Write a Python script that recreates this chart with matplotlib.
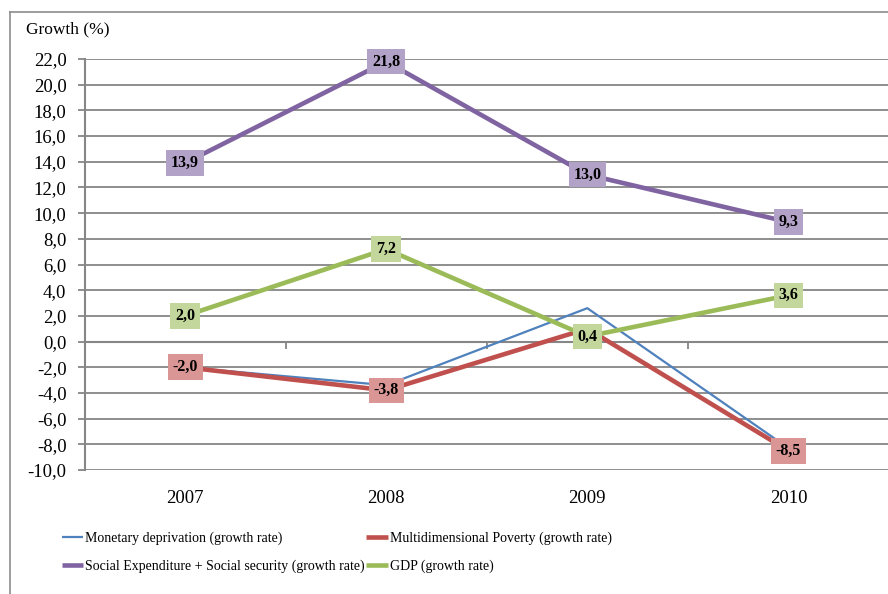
import matplotlib.pyplot as plt
from matplotlib.lines import Line2D
from matplotlib.transforms import blended_transform_factory

years = ['2007', '2008', '2009', '2010']
monetary = [-2.0, -3.4, 2.6, -8.3]
multidim = [-2.0, -3.8, 1.0, -8.5]
social = [13.9, 21.8, 13.0, 9.3]
gdp = [2.0, 7.2, 0.4, 3.6]
# the 2009 label of the poverty series sits hidden under the GDP label
hidden = {('multidim', 2)}

plt.rcParams['font.family'] = ['Liberation Serif', 'DejaVu Serif']

fig = plt.figure(figsize=(8.88, 5.94), dpi=100)
ax = fig.add_axes([84.5 / 888, 1 - 470 / 594, (889 - 84.5) / 888, (470 - 59) / 594])

x = range(len(years))
grid_c = '#868686'

# outer chart frame (only left and top are visible in the picture)
fig.add_artist(Line2D([10 / 888, 10 / 888], [0, 1 - 12 / 594], transform=fig.transFigure,
                      color='#8c8c8c', lw=1.2))
fig.add_artist(Line2D([10 / 888, 1], [1 - 12 / 594, 1 - 12 / 594], transform=fig.transFigure,
                      color='#8c8c8c', lw=1.2))

ax.set_xlim(-0.5, 3.5)
ax.set_ylim(-10, 22)
ax.set_yticks(range(-10, 23, 2))
ax.set_yticklabels([f'{v:.1f}'.replace('.', ',') for v in range(-10, 23, 2)], fontsize=13.5)
ax.yaxis.grid(True, color=grid_c, lw=1.3)
ax.set_axisbelow(True)
ax.tick_params(axis='y', length=5, color=grid_c, width=1.3, pad=8)

for s in ['top', 'right']:
    ax.spines[s].set_visible(False)
ax.spines['left'].set_color(grid_c)
ax.spines['left'].set_linewidth(1.5)
ax.spines['bottom'].set_position(('data', 0))
ax.spines['bottom'].set_color(grid_c)
ax.spines['bottom'].set_linewidth(1.5)
ax.set_xticks([0.5, 1.5, 2.5, 3.5])
ax.set_xticklabels([])
ax.tick_params(axis='x', length=5, color=grid_c, width=1.3, direction='out')

tr = blended_transform_factory(ax.transData, ax.transAxes)
for i, yr in enumerate(years):
    ax.text(i, -0.07, yr, transform=tr, ha='center', va='center', fontsize=13.5)

fig.text(26 / 888, 1 - 29 / 594, 'Growth (%)', fontsize=12.5, va='center', ha='left')

series = [
    ('monetary', monetary, '#4F81BD', 1.6, None, 'Monetary deprivation (growth rate)'),
    ('multidim', multidim, '#C0504D', 3.3, '#D99694', 'Multidimensional Poverty (growth rate)'),
    ('social', social, '#8064A2', 3.3, '#B3A2C7', 'Social Expenditure + Social security (growth rate)'),
    ('gdp', gdp, '#9BBB59', 3.3, '#C3D69B', 'GDP (growth rate)'),
]

handles = {}
for k, (key, vals, col, lw, box, name) in enumerate(series):
    h, = ax.plot(x, vals, color=col, lw=lw, solid_capstyle='butt', zorder=3 + k, label=name)
    handles[name] = h

for k, (key, vals, col, lw, box, name) in enumerate(series):
    if box is None:
        continue
    for i, v in enumerate(vals):
        if (key, i) in hidden:
            continue
        ax.text(i, v, f'{v:.1f}'.replace('.', ','), ha='center', va='center',
                fontsize=11.5, fontweight='bold', zorder=10 + k,
                bbox=dict(boxstyle='square,pad=0.3', fc=box, ec='none'))

order = [series[0][5], series[2][5], series[1][5], series[3][5]]
fig.legend([handles[n] for n in order], order, ncol=2, loc='upper left',
           bbox_to_anchor=(56 / 888, 1 - 526 / 594), frameon=False, fontsize=10,
           handlelength=1.55, handletextpad=0.15, columnspacing=0.1, labelspacing=1.05,
           borderaxespad=0)

fig.savefig('out.png', dpi=100)
